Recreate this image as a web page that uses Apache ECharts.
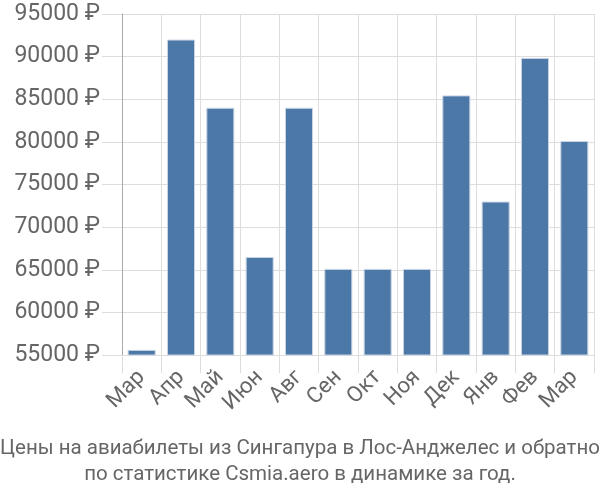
<!DOCTYPE html>
<html><head><meta charset="utf-8">
<script src="https://cdn.jsdelivr.net/npm/echarts@6/dist/echarts.min.js"></script>
<style>html,body{margin:0;padding:0;background:#fff}#c{width:600px;height:500px}</style>
</head><body><div id="c"></div>
<script>
const categories = ["Мар","Апр","Май","Июн","Авг","Сен","Окт","Ноя","Дек","Янв","Фев","Мар"];
const values = [55600, 92000, 84000, 66500, 84000, 65100, 65100, 65100, 85450, 73000, 89850, 80100];
const yMin = 55000, yMax = 95000, yStep = 5000;
const titleLines = ["Цены на авиабилеты из Сингапура в Лос-Анджелес и обратно","по статистике Csmia.aero в динамике за год."];
const FONT = 'Roboto, "Liberation Sans", sans-serif';

const chart = echarts.init(document.getElementById('c'));
chart.setOption({
  animation:false,
  title:{text:titleLines.join('\n'),left:'center',bottom:7,
    textStyle:{fontFamily:FONT,fontWeight:'normal',fontSize:20.5,color:'#666',lineHeight:26}},
  grid:{left:122,right:6,top:14,bottom:145},
  xAxis:{type:'category',data:categories,
    axisLine:{show:false},
    axisTick:{show:true,length:18,lineStyle:{color:'#ddd'}},
    splitLine:{show:true,lineStyle:{color:'#ddd'}},
    axisLabel:{interval:0,rotate:45,fontFamily:FONT,fontSize:22,color:'#666',margin:19}},
  yAxis:{type:'value',min:yMin,max:yMax,interval:yStep,
    axisLine:{show:true,lineStyle:{color:'#aaa'}},
    axisTick:{show:true,length:20,lineStyle:{color:'#ddd'}},
    splitLine:{show:true,lineStyle:{color:'#ddd'}},
    axisLabel:{fontFamily:FONT,fontSize:23,color:'#666',margin:22,formatter:v=>v+' ₽'}},
  series:[{type:'bar',data:values,barWidth:28,
    itemStyle:{color:'#4c78a8',borderColor:'#c8d4e3',borderWidth:1}}]
});
</script></body></html>
